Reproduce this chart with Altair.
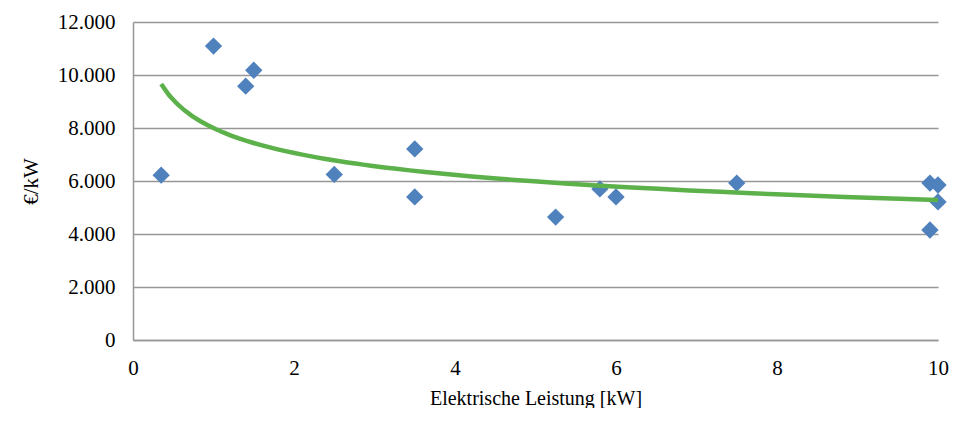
import altair as alt
import pandas as pd

leistung = [0.35, 1.0, 1.4, 1.5, 2.5, 3.5, 3.5, 5.25, 5.8, 6.0, 7.5, 9.9, 10.0, 10.0, 9.9]
kosten = [6220, 11090, 9580, 10180, 6250, 7210, 5400, 4640, 5700, 5400, 5920, 5920, 5850, 5210, 4150]
x_ticks = [0, 2, 4, 6, 8, 10]
y_ticks = [0, 2000, 4000, 6000, 8000, 10000, 12000]

df = pd.DataFrame({"x": leistung, "y": kosten})

font = "Liberation Serif"

x_enc = alt.X("x:Q", scale=alt.Scale(domain=[0, 10], nice=False, zero=True),
              axis=alt.Axis(title="Elektrische Leistung [kW]", values=x_ticks, format="d",
                            grid=False, ticks=False, labelPadding=17, titlePadding=10,
                            labelFlush=False,
                            domainColor="#969696", domainWidth=1.5))
y_enc = alt.Y("y:Q", scale=alt.Scale(domain=[0, 12000], nice=False),
              axis=alt.Axis(title="€/kW", values=y_ticks,
                            labelExpr="replace(format(datum.value, ',d'), ',', '.')",
                            ticks=False, labelPadding=18, titlePadding=16,
                            labelFlush=False,
                            gridColor="#969696", gridWidth=1.5,
                            domainColor="#969696", domainWidth=1.5))

points = alt.Chart(df).mark_point(shape="diamond", filled=True, size=300,
                                  color="#4F81BD", opacity=1).encode(x=x_enc, y=y_enc)

trend = alt.Chart(df).transform_regression(
    "x", "y", method="pow", extent=[0.35, 10]
).mark_line(color="#5DB14B", strokeWidth=4.5, clip=True).encode(x=x_enc, y=y_enc)

chart = (points + trend).properties(
    width=805, height=318,
    autosize=alt.AutoSizeParams(type="none"),
    padding={"left": 125, "top": 14, "right": 11, "bottom": 68},
).configure(font=font).configure_axis(
    labelFont=font, titleFont=font, labelFontSize=21, titleFontSize=21,
    labelColor="black", titleColor="black", titleFontWeight="normal",
).configure_axisX(titleFontSize=20).configure_view(stroke=None)

chart.save("out.html", embed_options={"renderer": "svg", "actions": False})
